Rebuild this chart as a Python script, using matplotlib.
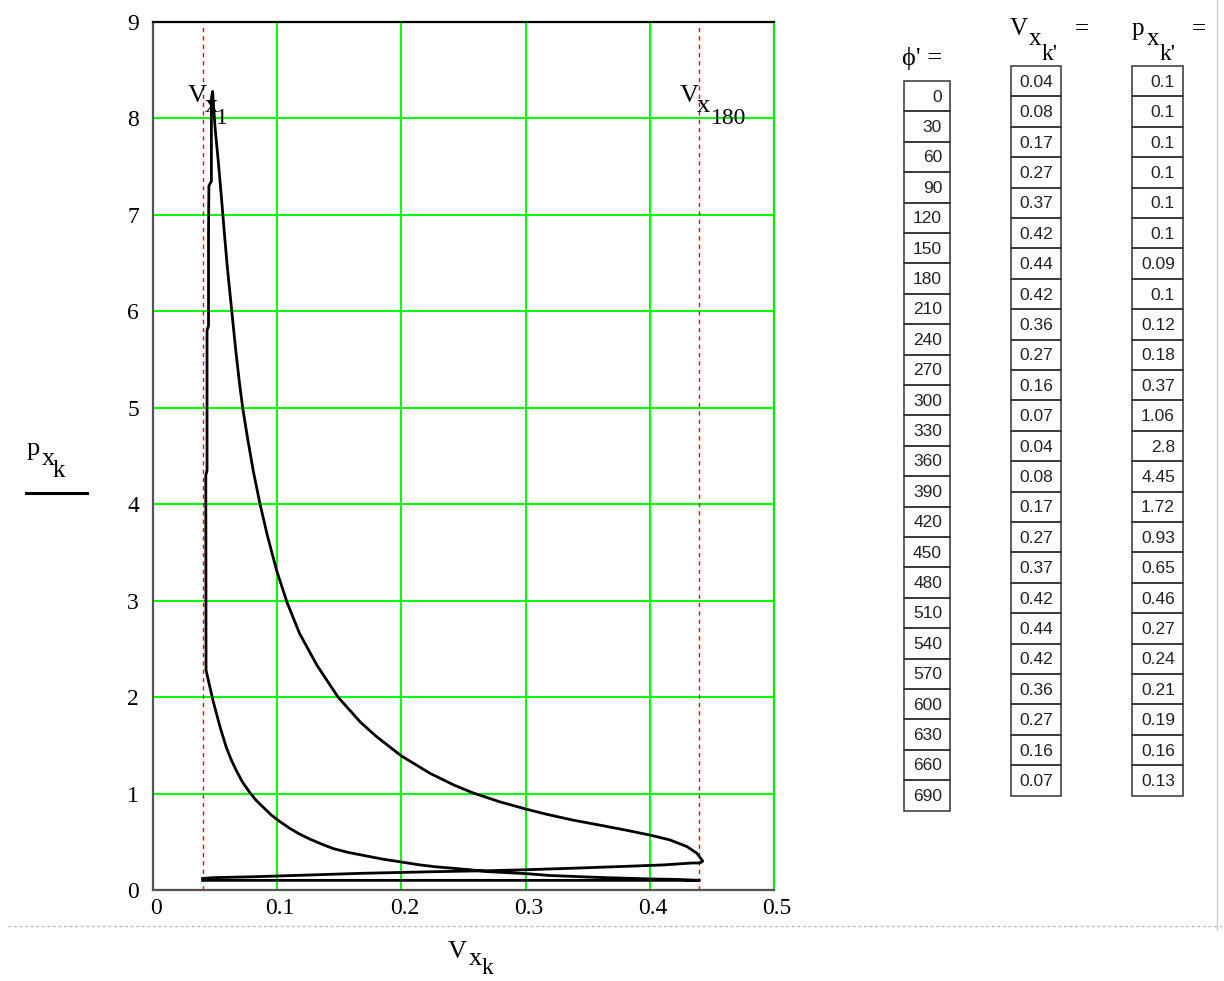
import matplotlib
matplotlib.use("Agg")
import matplotlib.pyplot as plt
import matplotlib.transforms as mtransforms
from matplotlib.patches import Rectangle

SERIF = ["Liberation Serif", "DejaVu Serif"]
SANS = ["Liberation Sans", "DejaVu Sans"]

# table on the right (crank angle, volume, pressure)
phi_deg = [0, 30, 60, 90, 120, 150, 180, 210, 240, 270, 300, 330,
           360, 390, 420, 450, 480, 510, 540, 570, 600, 630, 660, 690]
V_tab = [0.04, 0.08, 0.17, 0.27, 0.37, 0.42, 0.44, 0.42, 0.36, 0.27, 0.16, 0.07,
         0.04, 0.08, 0.17, 0.27, 0.37, 0.42, 0.44, 0.42, 0.36, 0.27, 0.16, 0.07]
p_tab = [0.1, 0.1, 0.1, 0.1, 0.1, 0.1, 0.09, 0.1, 0.12, 0.18, 0.37, 1.06,
         2.8, 4.45, 1.72, 0.93, 0.65, 0.46, 0.27, 0.24, 0.21, 0.19, 0.16, 0.13]

# indicator diagram traced along the cycle
V_intake = [0.04, 0.08, 0.17, 0.27, 0.37, 0.42, 0.44]
p_intake = [0.1, 0.1, 0.1, 0.1, 0.1, 0.1, 0.1]
V_compr = [0.42, 0.40, 0.36, 0.32, 0.30, 0.27, 0.255, 0.242, 0.228, 0.215, 0.2,
           0.185, 0.169, 0.157, 0.145, 0.135, 0.126, 0.118, 0.11, 0.1, 0.095,
           0.089, 0.083, 0.078, 0.072, 0.067, 0.063, 0.059, 0.054, 0.0486,
           0.045, 0.0427]
p_compr = [0.11, 0.115, 0.13, 0.15, 0.17, 0.19, 0.21, 0.225, 0.24, 0.26, 0.29,
           0.32, 0.36, 0.39, 0.43, 0.48, 0.53, 0.58, 0.64, 0.73, 0.78,
           0.855, 0.93, 1.01, 1.12, 1.24, 1.35, 1.48, 1.69, 1.95,
           2.15, 2.28]
V_comb = [0.0425, 0.0435, 0.0435, 0.0447, 0.0447, 0.045, 0.047, 0.047, 0.048]
p_comb = [4.3, 4.35, 5.8, 5.85, 6.8, 7.3, 7.35, 8.2, 8.28]
V_exp = [0.050, 0.0526, 0.0553, 0.0572, 0.0599, 0.0625, 0.0647, 0.0666, 0.0695,
         0.0722, 0.0762, 0.0808, 0.0862, 0.092, 0.0996, 0.108, 0.118, 0.132,
         0.149, 0.167, 0.180, 0.2, 0.223, 0.242, 0.257, 0.279, 0.3, 0.317,
         0.338, 0.36, 0.381, 0.4, 0.416, 0.43, 0.438, 0.4426, 0.4404]
p_exp = [7.9, 7.55, 7.15, 6.85, 6.45, 6.12, 5.84, 5.6, 5.27,
         5.0, 4.68, 4.34, 4.0, 3.68, 3.31, 2.98, 2.66, 2.33,
         2.0, 1.74, 1.59, 1.39, 1.21, 1.09, 1.01, 0.915, 0.84, 0.785,
         0.725, 0.672, 0.62, 0.57, 0.52, 0.45, 0.38, 0.30, 0.28]
V_exh = [0.434, 0.411, 0.38, 0.336, 0.30, 0.27, 0.227, 0.168, 0.117, 0.0825, 0.0486, 0.04]
p_exh = [0.28, 0.26, 0.245, 0.225, 0.21, 0.2, 0.19, 0.173, 0.152, 0.138, 0.128, 0.12]

V_curve = V_intake + V_compr + V_comb + V_exp + V_exh
p_curve = p_intake + p_compr + p_comb + p_exp + p_exh

W, H = 1224, 981
fig = plt.figure(figsize=(W / 100, H / 100), dpi=100)
fig.patch.set_facecolor("white")

ax = fig.add_axes([153 / W, 1 - 890 / H, (774 - 153) / W, (890 - 22) / H])
ax.set_xlim(0, 0.5)
ax.set_ylim(0, 9)
ax.set_xticks([0, 0.1, 0.2, 0.3, 0.4, 0.5])
ax.set_xticklabels(["0", "0.1", "0.2", "0.3", "0.4", "0.5"])
ax.set_yticks(range(10))
ax.grid(True, color="#00ff00", lw=1.5)
ax.set_axisbelow(True)
ax.tick_params(axis="y", length=0, labelsize=17, pad=10)
ax.tick_params(axis="x", length=0, labelsize=17, pad=6)
shift = mtransforms.ScaledTranslation(3 / 100, 0, fig.dpi_scale_trans)
for lab in ax.get_xticklabels():
    lab.set_family(SERIF)
    lab.set_transform(lab.get_transform() + shift)
for lab in ax.get_yticklabels():
    lab.set_family(SERIF)
for side in ["left", "bottom"]:
    ax.spines[side].set_color("#555555")
    ax.spines[side].set_linewidth(1.6)
ax.spines["top"].set_color("black")
ax.spines["top"].set_linewidth(1.6)
ax.spines["right"].set_color("#00ee00")
ax.spines["right"].set_linewidth(1.6)

for v in (V_tab[0], V_tab[6]):
    ax.axvline(v, ymax=0.995, color="red", lw=1.0, ls=(0, (3, 3)), zorder=2)

ax.plot(V_curve, p_curve, color="black", lw=2.0, zorder=3, solid_joinstyle="round")

# overlay in pixel coordinates for labels and tables
ov = fig.add_axes([0, 0, 1, 1], facecolor="none")
ov.set_xlim(0, W)
ov.set_ylim(H, 0)
ov.axis("off")


def pieces(parts):
    # Mathcad-like nested subscripts, each piece on its own baseline
    for s, x, y, size in parts:
        ov.text(x, y, s, fontsize=size, family=SERIF, va="baseline", ha="left")


pieces([("V", 188, 102, 19), ("x", 205, 112, 19), ("1", 216, 124, 17)])
pieces([("V", 680, 102, 19), ("x", 697, 112, 19), ("180", 711, 124, 17)])
pieces([("p", 27, 455, 19), ("x", 42, 465, 19), ("k", 53, 477, 18)])
ov.plot([26, 87], [493, 493], color="black", lw=2.2)
pieces([("V", 448, 958, 19), ("x", 469, 965, 19), ("k", 482, 974, 17)])

ov.plot([8, W], [926, 926], color="#bbbbbb", lw=1.0, ls=(0, (2, 2)))
ov.plot([1217, 1217], [0, 930], color="#cccccc", lw=1.0)

pieces([("\u03d5' =", 902, 65, 19)])
pieces([("V", 1010, 35, 18), ("x", 1029, 45, 18), ("k'", 1042, 60, 17), ("=", 1075, 35, 18)])
pieces([("p", 1132, 35, 18), ("x", 1147, 45, 18), ("k'", 1160, 60, 17), ("=", 1192, 35, 18)])

row_h = 30.4


def draw_column(values, x0, x1, top, fmt):
    for i, val in enumerate(values):
        y = top + i * row_h
        ov.add_patch(Rectangle((x0, y), x1 - x0, row_h, fill=False,
                               edgecolor="#333333", lw=1.1))
        ov.text(x1 - 8, y + row_h / 2 + 1, fmt(val), ha="right", va="center",
                fontsize=12.5, family=SANS, color="#222222")


draw_column(phi_deg, 904, 950, 81, lambda v: str(v))
draw_column(V_tab, 1011, 1061, 66, lambda v: f"{v:.2f}")
draw_column(p_tab, 1132, 1183, 66, lambda v: f"{v:g}")

fig.savefig("out.png", dpi=100, facecolor="white")
